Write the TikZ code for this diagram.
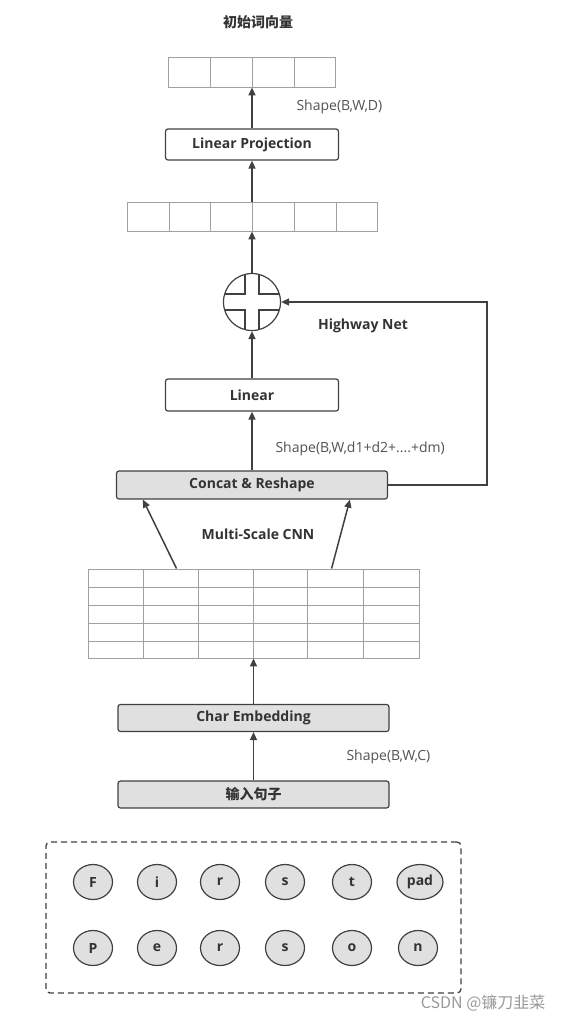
\documentclass[tikz,border=0pt]{standalone}
\usepackage{fontspec}
\setmainfont{Open Sans}
\newfontfamily\cjk{Noto Sans CJK SC}
\usetikzlibrary{arrows.meta,shapes.geometric}
\definecolor{linegray}{HTML}{404040}
\definecolor{boxgray}{HTML}{E0E0E0}
\definecolor{cellgray}{HTML}{A0A0A0}
\definecolor{textgray}{HTML}{333333}

\tikzset{
  block/.style={draw=linegray, line width=1.2pt, rounded corners=2.5pt, fill=white, minimum height=31pt, inner sep=0pt, font=\bfseries\fontsize{14}{16}\selectfont, text=textgray},
  grayblock/.style={block, fill=boxgray, minimum height=28pt},
  vec/.style={draw=cellgray, line width=0.9pt, inner sep=0pt, minimum height=30pt},
  cellline/.style={cellgray, line width=0.9pt},
  letter/.style={ellipse, draw=linegray, line width=1.2pt, fill=boxgray, minimum width=39pt, minimum height=35pt, inner sep=0pt, font=\bfseries\fontsize{14}{16}\selectfont, text=textgray},
  note/.style={font=\fontsize{14}{16}\selectfont, text=textgray!85},
  heading/.style={font=\bfseries\fontsize{14}{16}\selectfont, text=textgray},
  flow/.style={->, draw=linegray, line width=1.5pt},
}

\begin{document}
\begin{tikzpicture}[x=1pt, y=-1pt, >={Triangle[length=8pt,width=7pt]}]
    \useasboundingbox (0,0) rectangle (562,1023);

    % output side
    \node[heading] (title) at (258,22) {\cjk\bfseries 初始词向量};
    \node[vec, minimum width=167pt] (vecout) at (252,72) {};
    \foreach \x in {210,252,294} \draw[cellline] (\x,57) -- (\x,87);
    \node[block, minimum width=173pt] (lproj) at (252,144.5) {Linear Projection};
    \node[note, anchor=west] (shapeout) at (293,107) {Shape(B,W,D)};
    \node[vec, minimum width=250pt, minimum height=29pt] (vechw) at (252,216.5) {};
    \foreach \x in {169,210,252,294,336} \draw[cellline] (\x,202) -- (\x,231);

    % highway
    \node[circle, draw=linegray, line width=1.2pt, minimum size=57pt, inner sep=0pt] (hw) at (252,302) {};
    \begin{scope}
        \clip (hw.center) circle (28.5pt);
        \draw[linegray, line width=1.2pt] (245,260) -- (245,294) -- (210,294) -- (210,310) -- (245,310) -- (245,345)
            -- (259,345) -- (259,310) -- (295,310) -- (295,294) -- (259,294) -- (259,260) -- cycle;
    \end{scope}
    \node[heading] (hwlabel) at (363,326) {Highway Net};
    \node[block, minimum width=173pt, minimum height=32pt] (linear) at (252,395) {Linear};
    \node[note, anchor=west] (shapecat) at (272,449) {Shape(B,W,d1+d2+....+dm)};
    \node[grayblock, minimum width=271pt] (concat) at (252,485) {Concat \& Reshape};

    % cnn
    \node[heading] (cnnlabel) at (258,534) {Multi-Scale CNN};
    \node[vec, minimum width=331pt, minimum height=89pt] (cnn) at (253.5,613.5) {};
    \foreach \x in {143,198,253,307,363} \draw[cellline] (\x,569) -- (\x,658);
    \foreach \y in {587,605,623,641} \draw[cellline] (88,\y) -- (419,\y);

    % input side
    \node[grayblock, minimum width=271pt, minimum height=27pt] (charemb) at (253.5,718) {Char Embedding};
    \node[note, anchor=west] (shapein) at (343,757) {Shape(B,W,C)};
    \node[grayblock, minimum width=271pt, minimum height=27pt] (sentence) at (253.5,794.5) {\cjk\bfseries 输入句子};

    \node[draw=linegray, line width=1.3pt, dash pattern=on 6pt off 4pt, rounded corners=4pt,
          minimum width=415pt, minimum height=151pt] (chars) at (253.5,917.5) {};
    \foreach \ch/\x [count=\i] in {F/93,i/157,r/220,s/285,t/352}
        \node[letter] (a\i) at (\x,882) {\ch};
    \node[letter, minimum width=46pt] (a6) at (420,882) {pad};
    \foreach \ch/\x [count=\i] in {P/93,e/157,r/220,s/285,o/352,n/418}
        \node[letter] (b\i) at (\x,948) {\ch};

    \node[anchor=east, font=\cjk\fontsize{16}{18}\selectfont, text=black!40] (mark) at (549,1003) {CSDN @镰刀韭菜};

    \draw[flow] (sentence) -- (charemb);
    \draw[flow] (charemb) -- (cnn);
    \draw[flow] ([xshift=89pt]cnn.north west) -- ([xshift=27pt]concat.south west);
    \draw[flow] ([xshift=244pt]cnn.north west) -- ([xshift=234pt]concat.south west);
    \draw[flow] (concat) -- (linear);
    \draw[flow] (linear) -- (hw);
    \draw[flow] (concat.east) -- ++(99,0) |- (hw.east);
    \draw[flow] (hw) -- (vechw);
    \draw[flow] (vechw) -- (lproj);
    \draw[flow] (lproj) -- (vecout);
\end{tikzpicture}
\end{document}
